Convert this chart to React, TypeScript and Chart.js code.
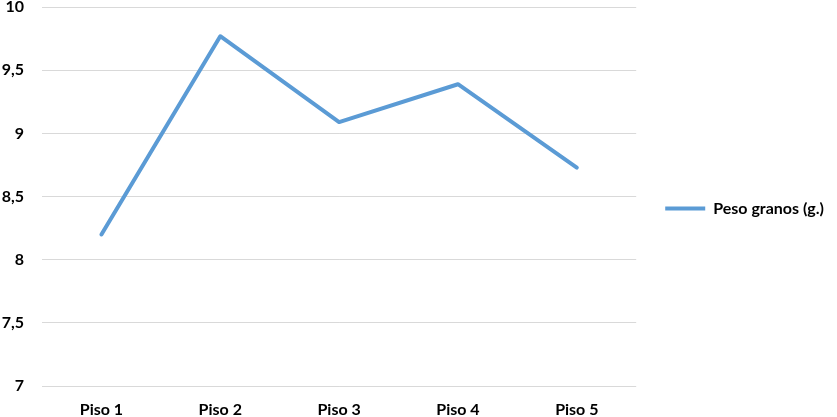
import React, { useEffect, useRef } from "react";
import { Chart, registerables } from "chart.js";

Chart.register(...registerables);

const categories = ["Piso 1", "Piso 2", "Piso 3", "Piso 4", "Piso 5"];
const seriesLabel = "Peso granos (g.)";
const pesoGranos = [8.2, 9.77, 9.09, 9.39, 8.73];
const yMin = 7;
const yMax = 10;
const yStep = 0.5;

const FONT = "Lato, 'Liberation Sans', sans-serif";

export default function App() {
  const ref = useRef<HTMLCanvasElement | null>(null);

  useEffect(() => {
    document.body.style.margin = "0";
    if (!ref.current) return;
    const chart = new Chart(ref.current, {
      type: "line",
      data: {
        labels: categories,
        datasets: [
          {
            label: seriesLabel,
            data: pesoGranos,
            borderColor: "#5B9BD5",
            backgroundColor: "#5B9BD5",
            borderWidth: 4,
            borderCapStyle: "round",
            borderJoinStyle: "round",
            pointRadius: 0,
            pointHoverRadius: 0,
            tension: 0,
            fill: false,
          },
        ],
      },
      options: {
        animation: false,
        responsive: false,
        maintainAspectRatio: false,
        layout: { padding: { top: 0, right: 3, bottom: 0, left: 0 } },
        plugins: {
          tooltip: { enabled: false },
          legend: {
            position: "right",
            align: "center",
            labels: {
              usePointStyle: true,
              pointStyle: "line",
              pointStyleWidth: 40,
              padding: 29,
              color: "#000",
              font: { family: FONT, size: 16, weight: "bold" },
            },
          },
        },
        scales: {
          x: {
            offset: true,
            grid: { display: false, drawTicks: false },
            border: { display: false },
            ticks: {
              color: "#000",
              padding: 14,
              font: { family: FONT, size: 16, weight: "bold" },
            },
            afterFit: (s: any) => {
              s.height = 31;
            },
          },
          y: {
            min: yMin,
            max: yMax,
            grid: {
              color: "#D9D9D9",
              lineWidth: 1,
              drawTicks: true,
              tickLength: 18,
              tickColor: "rgba(0,0,0,0)",
            },
            border: { display: false },
            ticks: {
              stepSize: yStep,
              padding: 0,
              color: "#000",
              font: { family: FONT, size: 16, weight: "bold", lineHeight: 0.9 },
              callback: (v: any) => String(v).replace(".", ","),
            },
            afterFit: (s: any) => {
              s.width = 42;
            },
          },
        },
      },
    });
    return () => chart.destroy();
  }, []);

  return (
    <div style={{ width: 837, height: 417 }}>
      <canvas ref={ref} width={837} height={417} style={{ display: "block" }} />
    </div>
  );
}
